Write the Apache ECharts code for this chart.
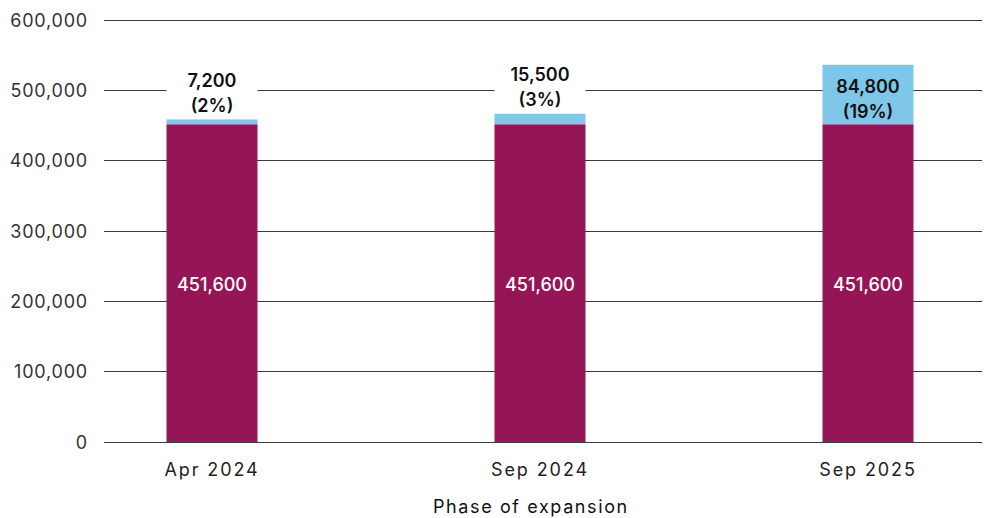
<!DOCTYPE html>
<html>
<head>
<meta charset="utf-8">
<script src="https://cdn.jsdelivr.net/npm/echarts@6/dist/echarts.min.js"></script>
<style>
  html, body { margin: 0; padding: 0; background: #fff; }
  #chart { width: 985px; height: 518px; }
  /* open tracking for the axis texts */
  #chart text[style*="Open Sans"] { letter-spacing: 1.9px; }
  #chart text[style*="Lato"] { letter-spacing: 0.8px; }
  #chart text[style*="Roboto"] { letter-spacing: 1.6px; }
</style>
</head>
<body>
<div id="chart"></div>
<script>
// Phases of the expansion
const categories = ['Apr 2024', 'Sep 2024', 'Sep 2025'];
// Existing total, identical in every phase
const baseValues = [451600, 451600, 451600];
// Additional amount in each phase and its share of the existing total
const addedValues = [7200, 15500, 84800];
const addedShares = ['2%', '3%', '19%'];
// Value axis range
const yMin = 0;
const yMax = 600000;
const yStep = 100000;

// Same face everywhere; the fallback name only selects the tracking rule above
const FONT = 'Inter, "Noto Sans", sans-serif';
const FONT_CAT = 'Inter, "Open Sans", sans-serif';
const FONT_TICK = 'Inter, Lato, sans-serif';
const FONT_NAME = 'Inter, Roboto, sans-serif';
const MAROON = '#951656';
const SKY = '#7fc7e8';
const BAR_W = 91;

const fmt = v => Number(v).toLocaleString('en-US');

// Small segments get their label above the bar, on a white box that interrupts the grid line
const addedData = addedValues.map((v, i) => {
  const small = v < 40000;
  return {
    value: v,
    label: small
      ? { position: 'top', distance: 0, backgroundColor: '#fff', width: BAR_W, padding: [3, 0, 1, 0] }
      : { position: 'inside', offset: [0, 4] }
  };
});

const chart = echarts.init(document.getElementById('chart'), null, { renderer: 'svg' });

chart.setOption({
  animation: false,
  backgroundColor: '#fff',
  title: {
    text: 'Phase of expansion',
    left: 433,
    top: 497,
    padding: 0,
    textStyle: { fontFamily: FONT_NAME, fontSize: 18, fontWeight: 'normal', color: '#111' }
  },
  grid: [
    { left: 104, right: 3, top: 20, bottom: 76, containLabel: false },
    { left: 212, right: 117, top: 20, bottom: 76, containLabel: false }
  ],
  xAxis: [
    { type: 'category', gridIndex: 0, data: categories, show: false },
    {
      type: 'category',
      gridIndex: 1,
      data: categories,
      boundaryGap: false,
      axisLine: { show: false },
      axisTick: { show: false },
      axisLabel: { fontFamily: FONT_CAT, fontSize: 18, color: '#222', margin: 18 }
    }
  ],
  yAxis: [
    {
      type: 'value',
      gridIndex: 0,
      min: yMin,
      max: yMax,
      interval: yStep,
      axisLine: { show: false },
      axisTick: { show: false },
      axisLabel: { fontFamily: FONT_TICK, fontSize: 18, color: '#333', margin: 16, formatter: v => fmt(v) },
      splitLine: { lineStyle: { color: '#3a3a3a', width: 1 } }
    },
    { type: 'value', gridIndex: 1, min: yMin, max: yMax, interval: yStep, show: false, splitLine: { show: false } }
  ],
  series: [
    {
      name: 'Existing',
      type: 'bar',
      xAxisIndex: 1,
      yAxisIndex: 1,
      stack: 'total',
      barWidth: BAR_W,
      clip: false,
      itemStyle: { color: MAROON },
      label: {
        show: true,
        position: 'inside',
        offset: [0, 1],
        fontFamily: FONT,
        fontSize: 18,
        fontWeight: 500,
        color: '#fff',
        formatter: p => fmt(p.value)
      },
      data: baseValues
    },
    {
      name: 'Added',
      type: 'bar',
      xAxisIndex: 1,
      yAxisIndex: 1,
      stack: 'total',
      barWidth: BAR_W,
      clip: false,
      itemStyle: { color: SKY },
      label: {
        show: true,
        fontFamily: FONT,
        fontSize: 18,
        fontWeight: 600,
        lineHeight: 25,
        color: '#111',
        align: 'center',
        formatter: p => fmt(p.value) + '\n(' + addedShares[p.dataIndex] + ')'
      },
      data: addedData
    }
  ]
});
</script>
</body>
</html>
